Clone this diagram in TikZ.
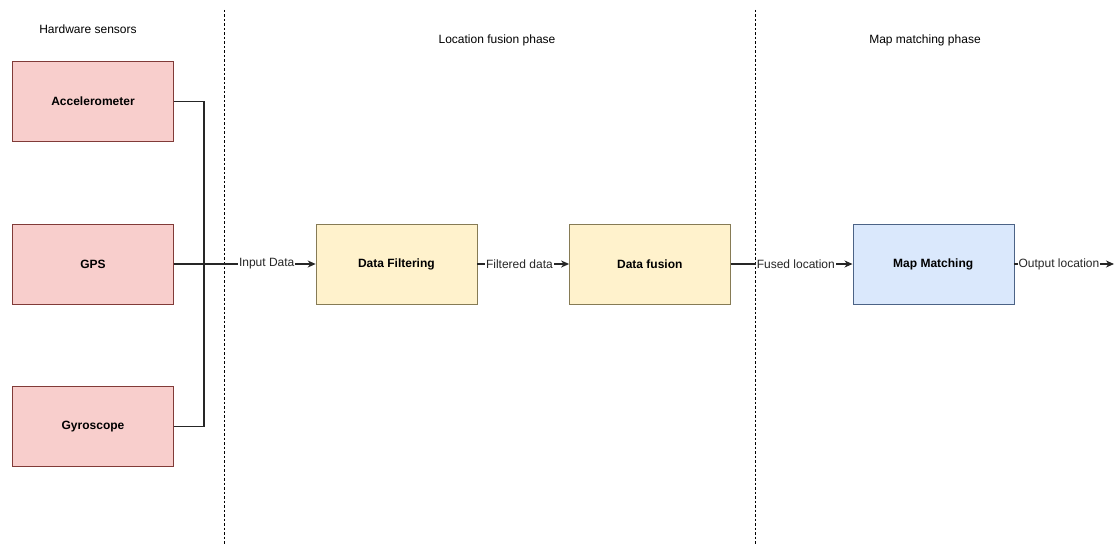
\documentclass[tikz,border=0pt]{standalone}
\usepackage{fontspec}
\setmainfont{Liberation Sans}
\usetikzlibrary{arrows.meta,positioning}
\definecolor{sensorfill}{HTML}{F8CECC}
\definecolor{sensordraw}{HTML}{B85450}
\definecolor{fusefill}{HTML}{FFF2CC}
\definecolor{fusedraw}{HTML}{A89A6A}
\definecolor{mapfill}{HTML}{DAE8FC}
\definecolor{mapdraw}{HTML}{6C8EBF}
\tikzstyle{sensorbox} = [rectangle, minimum width=161pt, minimum height=80pt, text centered, draw=sensordraw!70!black, fill=sensorfill, font=\fontsize{12}{14}\selectfont\bfseries]
\tikzstyle{fusebox} = [rectangle, minimum width=161pt, minimum height=80pt, text centered, draw=fusedraw!80!black, fill=fusefill, font=\fontsize{12}{14}\selectfont\bfseries]
\tikzstyle{mapbox} = [rectangle, minimum width=161pt, minimum height=80pt, text centered, draw=mapdraw!70!black, fill=mapfill, font=\fontsize{12}{14}\selectfont\bfseries]
\tikzstyle{phaselabel} = [font=\fontsize{12}{14}\selectfont]
\tikzstyle{edgelabel} = [fill=white, inner sep=1pt, font=\fontsize{12}{14}\selectfont]
\tikzstyle{arrow} = [line width=1.2pt, -{Stealth[length=8pt, width=7pt, inset=2.5pt]}, color=black!85]
\tikzstyle{wire} = [line width=1.2pt, color=black!85]
\tikzstyle{divider} = [line width=1pt, dash pattern=on 2.5pt off 2pt]

\begin{document}
\begin{tikzpicture}[x=1pt, y=-1pt]
\useasboundingbox (0,0) rectangle (1115,545);

% Phase dividers
\draw[divider] (224,10) coordinate (d1top) -- (224,545) coordinate (d1bot);
\draw[divider] (755,10) coordinate (d2top) -- (755,545) coordinate (d2bot);

% Phase titles
\node[phaselabel] (hwtitle) at (88,29) {Hardware sensors};
\node[phaselabel] (fusetitle) at (497,40) {Location fusion phase};
\node[phaselabel] (maptitle) at (925,40) {Map matching phase};

% Hardware sensors
\node[sensorbox] (gps) at (93,264) {GPS};
\node[sensorbox, above=82pt of gps] (accel) {Accelerometer};
\node[sensorbox, below=82pt of gps] (gyro) {Gyroscope};

% Processing stages
\node[fusebox, right=142pt of gps] (filter) {Data Filtering};
\node[fusebox, right=92pt of filter] (fusion) {Data fusion};
\node[mapbox, right=122pt of fusion] (mapmatch) {Map Matching};
\coordinate (bus) at (204,264);
\coordinate (out) at (1114,264);

% Arrows
\draw[wire] (accel) -| (bus);
\draw[wire] (gyro) -| (bus);
\draw[arrow] (gps) -- node[edgelabel, pos=0.655] (inlabel) {Input Data} (filter);
\draw[arrow] (filter) -- node[edgelabel, pos=0.46] (filtlabel) {Filtered data} (fusion);
\draw[arrow] (fusion) -- node[edgelabel, pos=0.535] (fusedlabel) {Fused location} (mapmatch);
\draw[arrow] (mapmatch) -- node[edgelabel, pos=0.45] (outlabel) {Output location} (out);

\end{tikzpicture}
\end{document}
